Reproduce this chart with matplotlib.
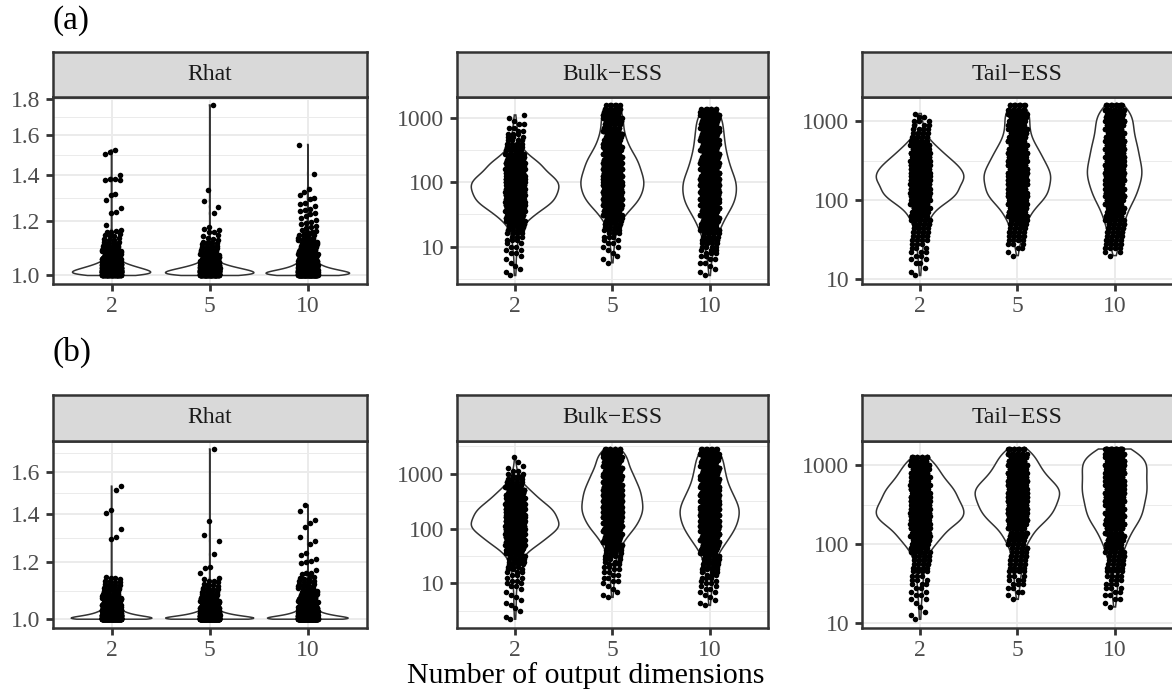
"""
Violin + jitter plots of Rhat, Bulk-ESS and Tail-ESS against the number
of output dimensions, for two settings (a) and (b).
"""

import numpy as np
import matplotlib
matplotlib.use("Agg")
import matplotlib.pyplot as plt
from matplotlib.ticker import FixedLocator, NullFormatter

plt.rcParams['font.family'] = ['Liberation Serif', 'DejaVu Serif']

W, H = 1172, 692

GROUP_LABELS = ['2', '5', '10']
PANEL_TITLES = ['Rhat', 'Bulk\u2212ESS', 'Tail\u2212ESS']
ROW_TAGS = ['(a)', '(b)']
X_TITLE = 'Number of output dimensions'

# Values as (value, how many points) tables.
RHAT_LEVELS = [1.000, 1.005, 1.010, 1.015, 1.020, 1.025, 1.030, 1.035, 1.040, 1.045,
               1.050, 1.055, 1.060, 1.065, 1.070, 1.075, 1.080, 1.085, 1.090, 1.095,
               1.100, 1.105, 1.110, 1.115, 1.120, 1.125, 1.130, 1.135, 1.140, 1.145,
               1.150]

ESS_LEVELS = [2.24, 2.5, 2.8, 3.15, 3.55, 4, 4.5, 5, 5.6, 6.3, 7.1, 8, 9, 10, 11.2, 12.5,
              14, 16, 18, 20, 22.4, 25, 28, 31.5, 35.5, 40, 45, 50, 56, 63, 71, 80,
              90, 100, 112, 125, 140, 160, 180, 200, 224, 250, 280, 315, 355, 400, 450, 500,
              560, 630, 710, 800, 900, 1000, 1120, 1250, 1400, 1600, 1800, 2000, 2240, 2500, 2800, 3150]

# ---- row (a) ----
RHAT_A_2 = [60, 75, 80, 75, 65, 55, 45, 36, 28, 22, 17, 14, 11, 9, 8, 7, 6, 5, 4, 4,
            3, 3, 3, 2, 2, 2, 1, 1, 2, 1, 1]
RHAT_A_5 = [70, 85, 88, 80, 68, 55, 43, 33, 25, 19, 15, 12, 9, 8, 6, 5, 4, 4, 3, 3,
            3, 2, 2, 2, 2, 1, 1, 1, 1, 1, 0]
RHAT_A_10 = [95, 100, 90, 72, 55, 42, 33, 27, 22, 18, 15, 13, 11, 10, 9, 8, 7, 6, 6, 5,
             5, 4, 4, 4, 3, 3, 3, 2, 2, 2, 2]
RHAT_A_2_HIGH = [1.520, 1.510, 1.500, 1.396, 1.380, 1.378, 1.376, 1.374, 1.314, 1.306,
                 1.285, 1.253, 1.236, 1.230, 1.183, 1.165, 1.160, 1.158, 1.156]
RHAT_A_5_HIGH = [1.766, 1.330, 1.283, 1.258, 1.230, 1.175, 1.167, 1.163, 1.157, 1.155]
RHAT_A_10_HIGH = [1.548, 1.405, 1.336, 1.322, 1.307, 1.297, 1.290, 1.272, 1.268, 1.262,
                  1.250, 1.244, 1.240, 1.232, 1.226, 1.220, 1.212, 1.205, 1.197, 1.192,
                  1.186, 1.180, 1.175, 1.170, 1.164, 1.160, 1.158, 1.155]

BULK_A_2 = [0, 0, 0, 0, 1, 1, 1, 1, 1, 1, 1, 2, 2, 2, 2, 3,
            3, 4, 5, 6, 8, 11, 15, 19, 24, 28, 31, 35, 37, 40, 41, 42,
            41, 39, 37, 34, 32, 29, 26, 22, 18, 14, 11, 8, 6, 5, 4, 3,
            3, 2, 2, 2, 1, 1, 1, 0, 0, 0, 0, 0, 0, 0, 0, 0]
BULK_A_5 = [0, 0, 0, 0, 0, 0, 0, 0, 1, 1, 1, 1, 1, 2, 2, 2,
            3, 3, 4, 4, 6, 7, 10, 12, 15, 18, 21, 24, 26, 28, 29, 29,
            29, 29, 29, 28, 28, 27, 25, 24, 23, 21, 19, 18, 16, 14, 13, 12,
            11, 11, 10, 10, 10, 10, 10, 10, 9, 6, 0, 0, 0, 0, 0, 0]
BULK_A_10 = [0, 0, 0, 0, 1, 1, 1, 1, 2, 2, 2, 3, 3, 4, 5, 6,
             7, 8, 9, 9, 11, 12, 14, 16, 18, 20, 22, 23, 24, 24, 25, 25,
             25, 24, 23, 22, 21, 20, 18, 17, 16, 16, 15, 15, 14, 14, 13, 13,
             13, 13, 12, 12, 12, 12, 11, 10, 7, 0, 0, 0, 0, 0, 0, 0]

TAIL_A_2 = [0, 0, 0, 0, 0, 0, 0, 0, 0, 0, 0, 0, 0, 0, 1, 1,
            1, 2, 2, 2, 3, 3, 3, 4, 5, 5, 6, 8, 10, 12, 15, 19,
            25, 31, 36, 41, 44, 46, 47, 46, 45, 43, 40, 36, 31, 25, 20, 15,
            11, 8, 6, 4, 3, 3, 2, 1, 0, 0, 0, 0, 0, 0, 0, 0]
TAIL_A_5 = [0, 0, 0, 0, 0, 0, 0, 0, 0, 0, 0, 0, 0, 0, 0, 0,
            0, 0, 0, 1, 1, 2, 3, 4, 5, 6, 7, 8, 11, 13, 16, 18,
            22, 26, 30, 34, 35, 35, 35, 35, 34, 32, 30, 29, 27, 25, 21, 18,
            16, 15, 14, 13, 12, 12, 13, 13, 13, 10, 0, 0, 0, 0, 0, 0]
TAIL_A_10 = [0, 0, 0, 0, 0, 0, 0, 0, 0, 0, 0, 0, 0, 0, 0, 0,
             0, 0, 0, 1, 2, 4, 5, 6, 7, 7, 8, 9, 11, 12, 14, 15,
             17, 19, 22, 24, 26, 27, 28, 28, 28, 28, 28, 27, 26, 25, 24, 23,
             22, 21, 20, 20, 19, 19, 18, 18, 17, 14, 0, 0, 0, 0, 0, 0]

# ---- row (b) ----
RHAT_B_2 = [150, 120, 85, 60, 45, 35, 27, 21, 17, 14, 12, 10, 9, 8, 6, 5, 4, 4, 3, 3,
            3, 2, 3, 2, 2, 2, 2, 1, 2, 1, 0]
RHAT_B_5 = [170, 130, 90, 62, 44, 32, 24, 18, 14, 11, 9, 8, 7, 6, 5, 4, 3, 3, 3, 2,
            3, 2, 1, 2, 1, 1, 2, 1, 1, 0, 0]
RHAT_B_10 = [160, 125, 88, 62, 45, 34, 27, 21, 17, 14, 12, 10, 9, 8, 7, 6, 5, 5, 4, 4,
             3, 3, 3, 2, 2, 2, 2, 2, 1, 1, 1]
RHAT_B_2_HIGH = [1.528, 1.508, 1.417, 1.402, 1.335, 1.300, 1.292]
RHAT_B_5_HIGH = [1.720, 1.366, 1.309, 1.284, 1.229, 1.182, 1.178, 1.158]
RHAT_B_10_HIGH = [1.439, 1.412, 1.370, 1.357, 1.340, 1.301, 1.284, 1.270, 1.234, 1.226,
                  1.212, 1.205, 1.199, 1.195, 1.168, 1.160, 1.158, 1.155]

BULK_B_2 = [1, 1, 0, 1, 1, 1, 1, 1, 1, 1, 1, 1, 2, 2, 2, 2,
            2, 3, 3, 3, 4, 5, 6, 7, 9, 12, 15, 18, 22, 26, 28, 31,
            33, 35, 37, 38, 37, 36, 34, 32, 30, 28, 25, 23, 20, 17, 15, 12,
            10, 7, 5, 4, 3, 2, 2, 1, 1, 1, 0, 1, 0, 0, 0, 0]
BULK_B_5 = [0, 0, 0, 0, 0, 0, 0, 0, 1, 1, 1, 1, 1, 1, 2, 2,
            2, 2, 2, 2, 3, 3, 3, 4, 4, 5, 6, 8, 9, 11, 12, 14,
            16, 18, 20, 22, 23, 24, 25, 25, 25, 25, 25, 25, 25, 24, 24, 23,
            22, 21, 20, 19, 18, 17, 15, 14, 13, 13, 13, 13, 13, 12, 8, 0]
BULK_B_10 = [0, 0, 0, 0, 0, 1, 1, 1, 1, 1, 2, 2, 2, 2, 2, 3,
             3, 3, 4, 4, 4, 5, 5, 6, 7, 8, 10, 12, 14, 16, 17, 18,
             19, 21, 22, 23, 24, 24, 25, 25, 24, 24, 23, 22, 21, 20, 18, 17,
             16, 15, 14, 14, 13, 13, 12, 12, 12, 11, 11, 11, 11, 10, 8, 0]

TAIL_B_2 = [0, 0, 0, 0, 0, 0, 0, 0, 0, 0, 0, 0, 0, 0, 1, 1,
            1, 1, 1, 2, 2, 2, 2, 3, 3, 3, 4, 4, 5, 6, 7, 9,
            11, 14, 17, 21, 25, 28, 33, 38, 41, 42, 41, 40, 37, 35, 33, 31,
            28, 25, 22, 20, 17, 14, 12, 10, 0, 0, 0, 0, 0, 0, 0, 0]
TAIL_B_5 = [0, 0, 0, 0, 0, 0, 0, 0, 0, 0, 0, 0, 0, 0, 0, 0,
            0, 0, 0, 1, 1, 2, 2, 3, 3, 3, 4, 4, 5, 5, 6, 6,
            7, 8, 11, 13, 16, 19, 23, 26, 29, 33, 35, 37, 39, 40, 40, 39,
            36, 33, 29, 25, 22, 19, 18, 17, 15, 14, 0, 0, 0, 0, 0, 0]
TAIL_B_10 = [0, 0, 0, 0, 0, 0, 0, 0, 0, 0, 0, 0, 0, 0, 0, 0,
             0, 1, 1, 2, 2, 2, 3, 3, 3, 4, 4, 5, 5, 6, 7, 8,
             9, 10, 12, 14, 16, 19, 21, 23, 25, 26, 27, 28, 29, 30, 30, 30,
             30, 30, 30, 30, 30, 30, 29, 29, 27, 22, 0, 0, 0, 0, 0, 0]

# layout in pixels: (strip top, panel top, panel bottom) per row, (left, right) per column
ROW_BOX = [(51.7, 96.5, 284.0), (395.0, 440.5, 627.7)]
COL_BOX = [(52.7, 366.7), (456.7, 768.0), (861.7, 1173.0)]
TAG_Y = [21, 352]
X_TITLE_Y = 676

BORDER = '#333333'
GRID = '#EBEBEB'


def expand(levels, counts, extra=()):
    vals = np.repeat(np.asarray(levels, float), counts)
    return np.concatenate([vals, np.asarray(extra, float)])


def frac_box(left, top, right, bottom):
    return [left / W, 1 - bottom / H, (right - left) / W, (bottom - top) / H]


def jitter(n, width=0.1):
    k = np.arange(1, n + 1)
    return width * (2.0 * ((0.5 + k * 0.7548776662466927) % 1.0) - 1.0)


def kde_log(values, n_grid=512):
    """Gaussian KDE on log10 scale, bandwidth nrd0, trimmed to data range."""
    t = np.log10(values)
    n = len(t)
    sd = t.std(ddof=1)
    q25, q75 = np.percentile(t, [25, 75])
    spread = min(sd, (q75 - q25) / 1.34) if q75 > q25 else sd
    bw = 0.9 * spread * n ** -0.2
    grid = np.linspace(t.min(), t.max(), n_grid)
    z = (grid[:, None] - t[None, :]) / bw
    dens = np.exp(-0.5 * z ** 2).sum(axis=1) / (n * bw * np.sqrt(2 * np.pi))
    return grid, dens


def draw_panel(ax, groups, majors, labels):
    outlines = [kde_log(v) for v in groups]
    dmax = max(d.max() for _, d in outlines)
    for i, (vals, (g, d)) in enumerate(zip(groups, outlines)):
        pos = i + 1
        hw = 0.45 * d / dmax
        xs = np.concatenate([pos - hw, (pos + hw)[::-1]])
        ys = 10 ** np.concatenate([g, g[::-1]])
        ax.fill(xs, ys, facecolor='white', edgecolor=BORDER, linewidth=1.1, zorder=2)
        ax.scatter(pos + jitter(len(vals)), vals, s=16, c='black',
                   linewidths=0, zorder=3)

    t = np.log10(np.concatenate(groups))
    lo, hi = t.min(), t.max()
    pad = 0.05 * (hi - lo)
    ax.set_yscale('log')
    ax.set_ylim(10 ** (lo - pad), 10 ** (hi + pad))
    ax.set_xlim(0.4, 3.6)

    ymin, ymax = ax.get_ylim()
    maj = [m for m in majors if ymin <= m <= ymax]
    lab = [l for m, l in zip(majors, labels) if ymin <= m <= ymax]
    mins = [np.sqrt(a * b) for a, b in zip(majors[:-1], majors[1:])]
    mins = [m for m in mins if ymin <= m <= ymax]
    ax.yaxis.set_major_locator(FixedLocator(maj))
    ax.set_yticklabels(lab)
    ax.yaxis.set_minor_locator(FixedLocator(mins))
    ax.yaxis.set_minor_formatter(NullFormatter())
    ax.set_xticks([1, 2, 3])
    ax.set_xticklabels(GROUP_LABELS)

    ax.set_axisbelow(True)
    ax.grid(which='major', color=GRID, linewidth=1.4)
    ax.grid(which='minor', axis='y', color=GRID, linewidth=0.7)
    ax.tick_params(which='major', length=5, width=2, color=BORDER,
                   labelsize=17, labelcolor='#4D4D4D', pad=4)
    ax.tick_params(which='minor', length=0)
    for s in ax.spines.values():
        s.set_color(BORDER)
        s.set_linewidth(1.8)


RHAT_MAJORS = [1.0, 1.2, 1.4, 1.6, 1.8]
RHAT_LABELS = ['1.0', '1.2', '1.4', '1.6', '1.8']
ESS_MAJORS = [1, 10, 100, 1000, 10000]
ESS_LABELS = ['1', '10', '100', '1000', '10000']

ROWS = [
    [
        [expand(RHAT_LEVELS, RHAT_A_2, RHAT_A_2_HIGH),
         expand(RHAT_LEVELS, RHAT_A_5, RHAT_A_5_HIGH),
         expand(RHAT_LEVELS, RHAT_A_10, RHAT_A_10_HIGH)],
        [expand(ESS_LEVELS, BULK_A_2), expand(ESS_LEVELS, BULK_A_5),
         expand(ESS_LEVELS, BULK_A_10)],
        [expand(ESS_LEVELS, TAIL_A_2), expand(ESS_LEVELS, TAIL_A_5),
         expand(ESS_LEVELS, TAIL_A_10)],
    ],
    [
        [expand(RHAT_LEVELS, RHAT_B_2, RHAT_B_2_HIGH),
         expand(RHAT_LEVELS, RHAT_B_5, RHAT_B_5_HIGH),
         expand(RHAT_LEVELS, RHAT_B_10, RHAT_B_10_HIGH)],
        [expand(ESS_LEVELS, BULK_B_2), expand(ESS_LEVELS, BULK_B_5),
         expand(ESS_LEVELS, BULK_B_10)],
        [expand(ESS_LEVELS, TAIL_B_2), expand(ESS_LEVELS, TAIL_B_5),
         expand(ESS_LEVELS, TAIL_B_10)],
    ],
]

fig = plt.figure(figsize=(W / 100, H / 100), dpi=100)

for r, row in enumerate(ROWS):
    s_top, p_top, p_bot = ROW_BOX[r]
    for c, groups in enumerate(row):
        left, right = COL_BOX[c]
        ax = fig.add_axes(frac_box(left, p_top, right, p_bot))
        if c == 0:
            draw_panel(ax, groups, RHAT_MAJORS, RHAT_LABELS)
        else:
            draw_panel(ax, groups, ESS_MAJORS, ESS_LABELS)

        sax = fig.add_axes(frac_box(left, s_top, right, p_top))
        sax.set_facecolor('#D9D9D9')
        sax.set_xticks([])
        sax.set_yticks([])
        for s in sax.spines.values():
            s.set_color(BORDER)
            s.set_linewidth(1.8)
        sax.text(0.5, 0.5, PANEL_TITLES[c], transform=sax.transAxes,
                 ha='center', va='center', fontsize=17, color='#1A1A1A')

    fig.text(52 / W, 1 - TAG_Y[r] / H, ROW_TAGS[r], fontsize=24,
             ha='left', va='center')

fig.text(0.5, 1 - X_TITLE_Y / H, X_TITLE, ha='center', va='center', fontsize=21.5)

fig.savefig('out.png', dpi=100)
print('Plot saved to: out.png')
